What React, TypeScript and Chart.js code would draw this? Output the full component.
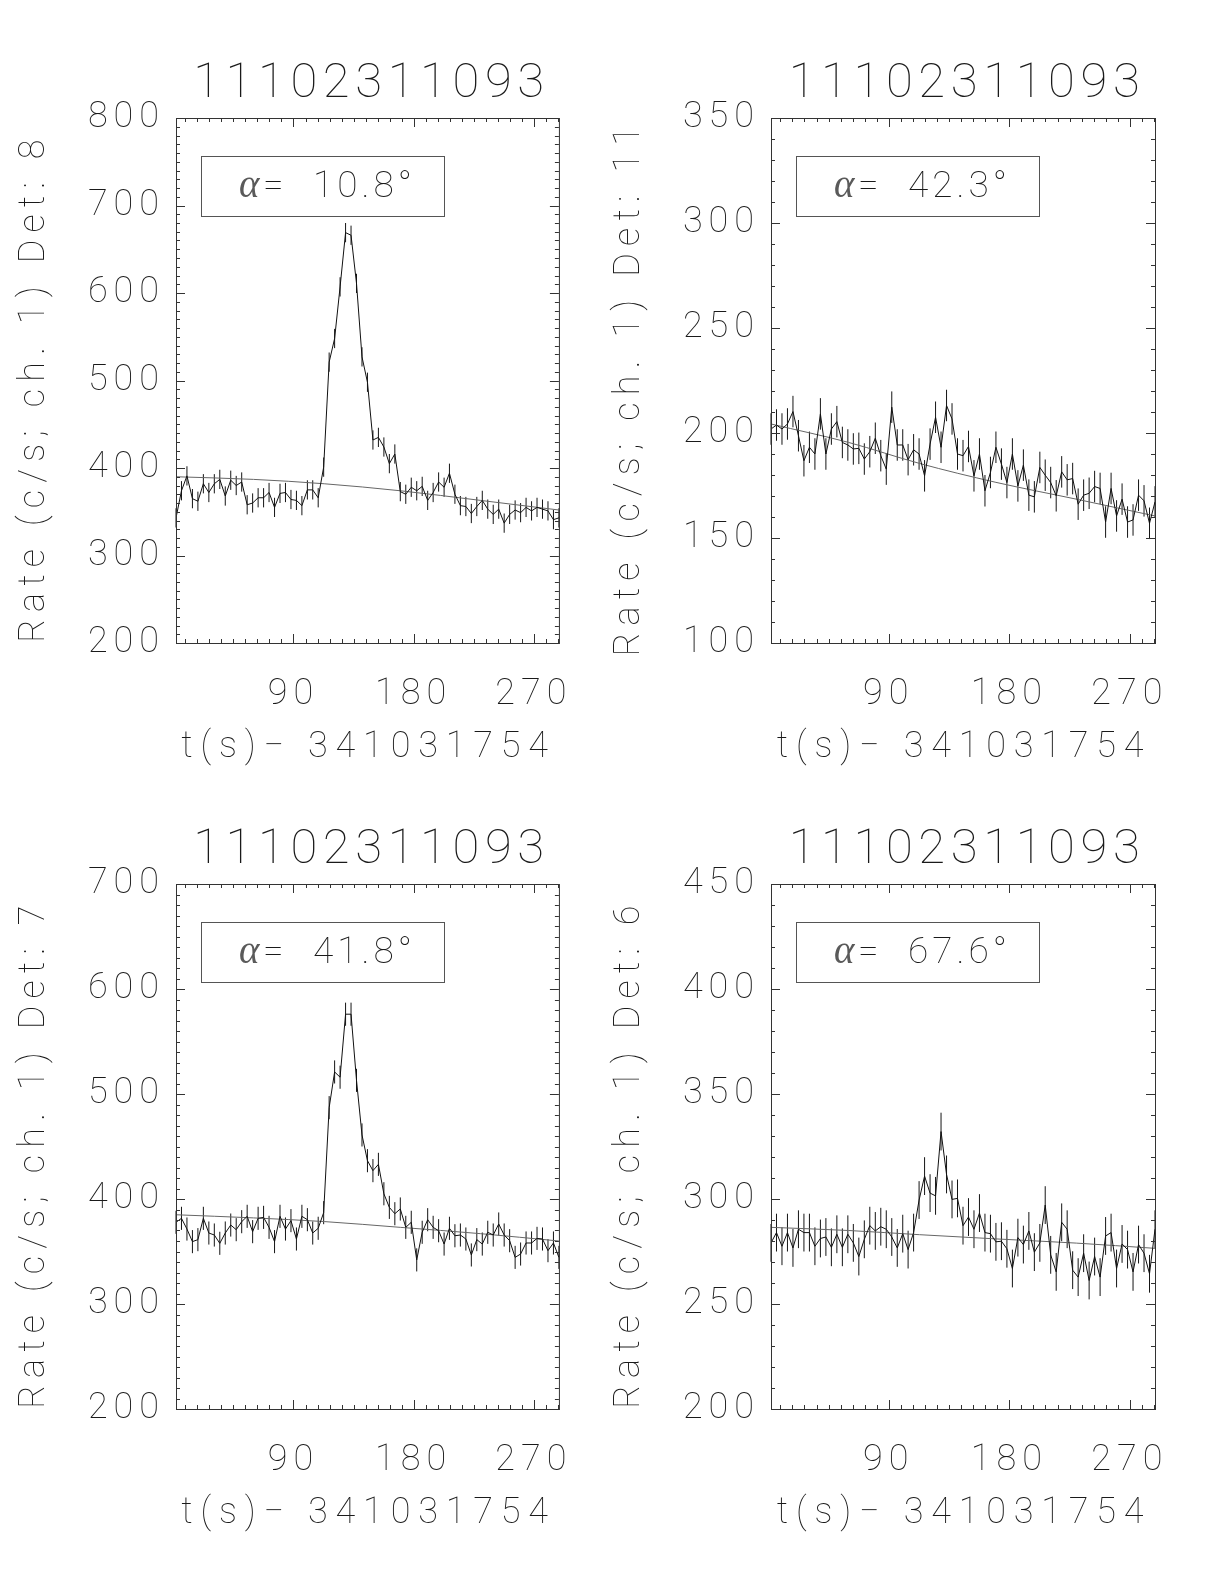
import React, { useEffect, useRef } from "react";
import { Chart, registerables } from "chart.js";

Chart.register(...registerables);

// ---------------- data ----------------
const TITLE = "11102311093";
const X_LABEL = "t(s)\u2212 341031754";
const FONT = 'Roboto, "DejaVu Sans", sans-serif';
const GREEK_FONT = '"Liberation Serif", serif';
const TEXT_COLOR = "#1a1a1a";

// bin centres (s since 341031754)
const TIME = [
  2.0, 6.1, 10.2, 14.3, 18.4, 22.5, 26.6, 30.7, 34.8, 38.9,
  43.0, 47.1, 51.2, 55.3, 59.4, 63.5, 67.6, 71.7, 75.8, 79.9,
  84.0, 88.1, 92.2, 96.3, 100.4, 104.4, 108.5, 112.6, 116.7, 120.8,
  124.9, 129.0, 133.1, 137.2, 141.3, 145.4, 149.5, 153.6, 157.7, 161.8,
  165.9, 170.0, 174.1, 178.2, 182.3, 186.4, 190.5, 194.6, 198.7, 202.8,
  206.8, 210.9, 215.0, 219.1, 223.2, 227.3, 231.4, 235.5, 239.6, 243.7,
  247.8, 251.9, 256.0, 260.1, 264.2, 268.3, 272.4, 276.5, 280.6, 284.7,
  288.8,
];
const X_TICKS = [90, 180, 270];

const RATE_DET8 = [
  343, 374, 391, 365, 362, 382, 372, 382, 387, 368,
  386, 380, 384, 358, 360, 366, 366, 372, 355, 371,
  372, 364, 363, 357, 375, 375, 366, 401, 521, 548,
  607, 669, 666, 611, 527, 498, 432, 435, 424, 405,
  416, 373, 370, 378, 374, 379, 363, 372, 384, 378,
  394, 370, 357, 356, 348, 356, 363, 353, 347, 353,
  337, 347, 352, 349, 355, 351, 355, 353, 351, 341,
  343,
];
const RATE_DET11 = [
  201.9, 203.8, 201.9, 204.3, 210.2, 198.7, 186.8, 193.2, 190.0, 209.1,
  190.0, 201.9, 205.4, 195.5, 194.3, 192.4, 192.7, 187.6, 191.1, 197.5,
  189.2, 182.8, 212.3, 194.3, 194.3, 187.3, 192.0, 190.0, 179.6, 194.7,
  207.5, 193.2, 213.1, 206.7, 190.0, 189.2, 193.6, 179.6, 190.0, 172.5,
  181.2, 193.2, 185.2, 176.4, 190.0, 174.8, 184.7, 170.4, 169.6, 183.6,
  179.9, 176.4, 170.1, 181.5, 177.7, 178.3, 166.1, 170.4, 171.3, 174.5,
  173.6, 157.6, 173.6, 160.5, 168.5, 157.6, 158.6, 170.4, 167.7, 157.0,
  167.2,
];
const RATE_DET7 = [
  377.8, 381.6, 371.4, 359.4, 361.3, 381.6, 367.6, 365.7, 357.8, 367.6,
  375.2, 370.8, 378.4, 383.5, 368.9, 381.6, 382.5, 373.0, 359.4, 383.5,
  371.4, 379.4, 361.9, 383.5, 380.3, 367.6, 372.1, 387.0, 487.0, 521.0,
  516.0, 576.0, 576.0, 513.0, 461.0, 436.5, 427.0, 433.0, 405.0, 392.0,
  386.0, 390.5, 373.0, 377.8, 342.0, 368.3, 380.3, 373.0, 369.8, 357.1,
  372.1, 365.0, 365.7, 361.9, 346.7, 361.3, 357.1, 368.3, 365.7, 376.2,
  365.7, 360.3, 344.4, 347.6, 358.1, 358.1, 362.5, 361.9, 350.8, 358.1,
  344.4,
];
const RATE_DET6 = [
  279.1, 284.0, 277.5, 284.0, 276.7, 285.6, 284.0, 284.0, 277.5, 281.2,
  281.9, 277.0, 283.2, 277.0, 283.2, 279.1, 272.6, 280.8, 287.3, 284.8,
  286.8, 285.6, 281.9, 276.7, 283.5, 275.9, 284.0, 299.5, 310.9, 302.8,
  301.5, 332.1, 311.7, 299.8, 300.3, 287.3, 291.4, 285.6, 293.3, 284.0,
  283.5, 279.6, 279.9, 276.3, 266.9, 281.6, 278.3, 284.8, 274.7, 279.1,
  297.1, 273.4, 265.3, 288.9, 285.6, 266.1, 262.8, 274.2, 261.2, 272.6,
  262.8, 282.4, 284.0, 266.9, 278.6, 275.9, 265.3, 278.3, 274.2, 264.4,
  285.6,
];

// background fit, sampled along the curve
const FIT_TIME = [2.0, 60, 113, 170, 230, 288.8];
const FIT_DET8 = [390, 387, 382, 374, 363, 352];
const FIT_DET11 = [204.3, 195.5, 185.5, 176.5, 168.5, 160.5];
const FIT_DET7 = [385, 382, 378.5, 373, 367, 360];
const FIT_DET6 = [286.5, 285, 283, 281, 279, 276.5];

// error bar half lengths (c/s)
const ERR_DET8 = 11;
const ERR_DET11 = 7.5;
const ERR_DET7 = 11;
const ERR_DET6 = 9;

const Y_TICKS_DET8 = [200, 300, 400, 500, 600, 700, 800];
const Y_TICKS_DET11 = [100, 150, 200, 250, 300, 350];
const Y_TICKS_DET7 = [200, 300, 400, 500, 600, 700];
const Y_TICKS_DET6 = [200, 250, 300, 350, 400, 450];

const ALPHA = ["10.8", "42.3", "41.8", "67.6"];
const DETECTORS = [8, 11, 7, 6];

const PANELS = [
  { det: DETECTORS[0], rate: RATE_DET8, fit: FIT_DET8, err: ERR_DET8, yTicks: Y_TICKS_DET8, yMinor: 10, alpha: ALPHA[0], col: 0, row: 0 },
  { det: DETECTORS[1], rate: RATE_DET11, fit: FIT_DET11, err: ERR_DET11, yTicks: Y_TICKS_DET11, yMinor: 10, alpha: ALPHA[1], col: 1, row: 0 },
  { det: DETECTORS[2], rate: RATE_DET7, fit: FIT_DET7, err: ERR_DET7, yTicks: Y_TICKS_DET7, yMinor: 10, alpha: ALPHA[2], col: 0, row: 1 },
  { det: DETECTORS[3], rate: RATE_DET6, fit: FIT_DET6, err: ERR_DET6, yTicks: Y_TICKS_DET6, yMinor: 10, alpha: ALPHA[3], col: 1, row: 1 },
];

type Panel = (typeof PANELS)[number];

function geometry(p: Panel) {
  const cx = p.col === 0 ? 0 : 600;
  const cw = p.col === 0 ? 600 : 624;
  const cy = p.row === 0 ? 0 : 790;
  const ch = p.row === 0 ? 790 : 794;
  const l = 176 + 595 * p.col;
  const r = 560 + 595 * p.col;
  const t = 118 + 766 * p.row;
  const b = 643 + 766 * p.row;
  return { cx, cw, cy, ch, l: l - cx, r: r - cx, t: t - cy, b: b - cy };
}

function PanelChart({ p }: { p: Panel }) {
  const ref = useRef<HTMLCanvasElement | null>(null);
  const g = geometry(p);

  useEffect(() => {
    if (!ref.current) return;
    const yMin = p.yTicks[0];
    const yMax = p.yTicks[p.yTicks.length - 1];
    const xMin = TIME[0];
    const xMax = TIME[TIME.length - 1];

    const idlPlugin = {
      id: "idlPanel",
      beforeDraw(chart: any) {
        chart.ctx.letterSpacing = "6px";
      },
      beforeDatasetsDraw(chart: any) {
        const ctx = chart.ctx as CanvasRenderingContext2D;
        const xs = chart.scales.x;
        const ys = chart.scales.y;
        ctx.save();
        ctx.strokeStyle = "#151515";
        ctx.lineWidth = 1;
        ctx.beginPath();
        const pts = chart.data.datasets[0].data as { x: number; y: number }[];
        for (const pt of pts) {
          const px = xs.getPixelForValue(pt.x);
          ctx.moveTo(px, ys.getPixelForValue(pt.y - p.err));
          ctx.lineTo(px, ys.getPixelForValue(pt.y + p.err));
        }
        ctx.stroke();
        ctx.restore();
      },
      afterDatasetsDraw(chart: any) {
        const ctx = chart.ctx as CanvasRenderingContext2D;
        const xs = chart.scales.x;
        const ys = chart.scales.y;
        const a = chart.chartArea;
        ctx.save();
        ctx.strokeStyle = "#333";
        ctx.lineWidth = 1;
        ctx.strokeRect(a.left + 0.5, a.top + 0.5, a.right - a.left, a.bottom - a.top);
        ctx.beginPath();
        // x ticks (every 9 s, major at 90)
        for (let v = 9; v < xMax; v += 9) {
          const len = v % 90 === 0 ? 9 : 4;
          const px = Math.round(xs.getPixelForValue(v)) + 0.5;
          ctx.moveTo(px, a.bottom);
          ctx.lineTo(px, a.bottom - len);
          ctx.moveTo(px, a.top);
          ctx.lineTo(px, a.top + len);
        }
        const major = p.yTicks[1] - p.yTicks[0];
        for (let v = yMin + p.yMinor; v < yMax; v += p.yMinor) {
          const len = Math.abs((v - yMin) % major) < 1e-6 ? 9 : 4;
          const py = Math.round(ys.getPixelForValue(v)) + 0.5;
          ctx.moveTo(a.left, py);
          ctx.lineTo(a.left + len, py);
          ctx.moveTo(a.right, py);
          ctx.lineTo(a.right - len, py);
        }
        ctx.stroke();

        // alpha box
        const bx = a.left + 25;
        const by = a.top + 38;
        ctx.strokeStyle = "#555";
        ctx.strokeRect(bx + 0.5, by + 0.5, 243, 60);
        ctx.textBaseline = "alphabetic";
        ctx.textAlign = "left";
        (ctx as any).letterSpacing = "0px";
        ctx.fillStyle = "#5a5a5a";
        ctx.font = `italic 39px ${GREEK_FONT}`;
        ctx.fillText("\u03b1", bx + 38, by + 41);
        ctx.fillStyle = TEXT_COLOR;
        (ctx as any).letterSpacing = "4px";
        ctx.font = `100 37px ${FONT}`;
        ctx.fillText("=", bx + 62, by + 41);
        ctx.fillText(`${p.alpha}\u00b0`, bx + 112, by + 41);

        // title
        ctx.textAlign = "center";
        ctx.font = `100 49px ${FONT}`;
        (ctx as any).letterSpacing = "5.6px";
        ctx.fillText(TITLE, (a.left + a.right) / 2 + 4, a.top - 21);

        // x label
        ctx.font = `100 36px ${FONT}`;
        (ctx as any).letterSpacing = "7.8px";
        ctx.fillText(X_LABEL, (a.left + a.right) / 2 + 1, a.bottom + 114);

        // y label (rotated)
        (ctx as any).letterSpacing = "7.2px";
        ctx.translate(a.left - 132, (a.top + a.bottom) / 2 + 7);
        ctx.rotate(-Math.PI / 2);
        ctx.fillText(`Rate (c/s; ch. 1) Det: ${p.det}`, 0, 0);
        ctx.restore();
      },
    };

    const chart = new Chart(ref.current, {
      type: "line",
      data: {
        datasets: [
          {
            data: TIME.map((t, i) => ({ x: t, y: p.rate[i] })),
            borderColor: "#111",
            borderWidth: 1,
            pointRadius: 0,
            tension: 0,
            fill: false,
          },
          {
            data: FIT_TIME.map((t, i) => ({ x: t, y: p.fit[i] })),
            borderColor: "#666",
            borderWidth: 1,
            pointRadius: 0,
            cubicInterpolationMode: "monotone",
            fill: false,
          },
        ],
      },
      options: {
        animation: false,
        responsive: false,
        maintainAspectRatio: false,
        devicePixelRatio: 1,
        layout: { padding: { top: g.t, left: 0, right: g.cw - g.r, bottom: 0 } },
        plugins: { legend: { display: false }, tooltip: { enabled: false }, title: { display: false } },
        scales: {
          x: {
            type: "linear",
            min: xMin,
            max: xMax,
            afterBuildTicks: (s: any) => {
              s.ticks = X_TICKS.map((v) => ({ value: v }));
            },
            afterFit: (s: any) => {
              s.height = g.ch - g.b;
            },
            grid: { display: false, drawTicks: false },
            border: { display: false },
            ticks: {
              autoSkip: false,
              maxRotation: 0,
              padding: 34,
              color: TEXT_COLOR,
              font: { family: FONT, size: 36, weight: "100", lineHeight: 1 },
            },
          },
          y: {
            type: "linear",
            min: yMin,
            max: yMax,
            afterBuildTicks: (s: any) => {
              s.ticks = p.yTicks.map((v) => ({ value: v }));
            },
            afterFit: (s: any) => {
              s.width = g.l;
            },
            grid: { display: false, drawTicks: false },
            border: { display: false },
            ticks: {
              autoSkip: false,
              padding: 11,
              color: TEXT_COLOR,
              font: { family: FONT, size: 36, weight: "100", lineHeight: 1 },
            },
          },
        },
      } as any,
      plugins: [idlPlugin],
    });
    return () => chart.destroy();
  }, []);

  return (
    <canvas
      ref={ref}
      width={g.cw}
      height={g.ch}
      style={{ position: "absolute", left: g.cx, top: g.cy, width: g.cw, height: g.ch }}
    />
  );
}

export default function App() {
  return (
    <div style={{ position: "absolute", left: 0, top: 0, width: 1224, height: 1584, background: "#fff" }}>
      {PANELS.map((p, i) => (
        <PanelChart key={i} p={p} />
      ))}
    </div>
  );
}
